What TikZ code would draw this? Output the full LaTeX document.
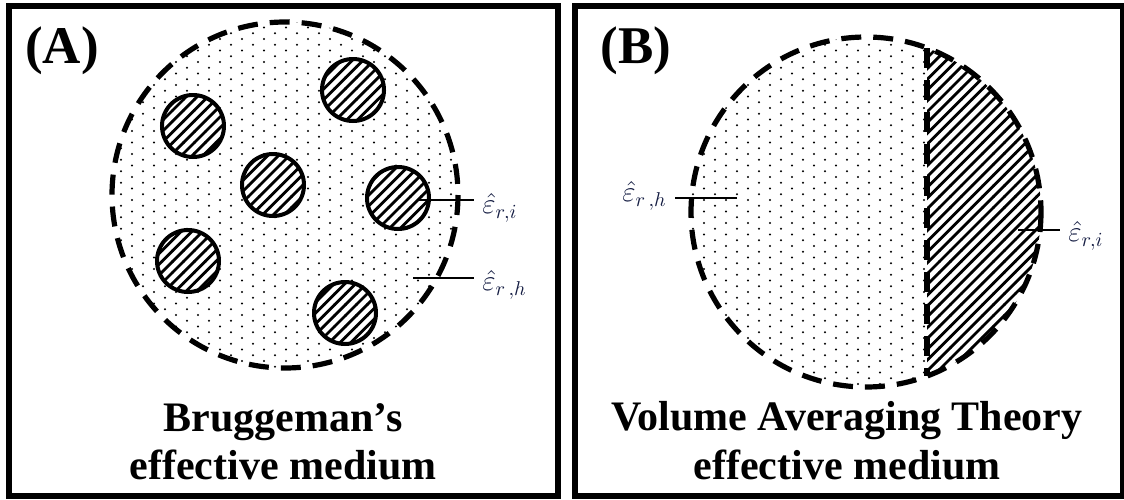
\documentclass[tikz,border=0pt]{standalone}
\usepackage{fontspec}
\setmainfont{Liberation Serif}
\usetikzlibrary{patterns}

\definecolor{epsblue}{RGB}{20,28,66}

\pgfdeclarepatternformonly{sparsedots}{\pgfqpoint{-1pt}{-1pt}}{\pgfqpoint{12pt}{7pt}}{\pgfqpoint{11pt}{5.75pt}}{
  \pgfpathcircle{\pgfqpoint{0pt}{0pt}}{.55pt}
  \pgfpathcircle{\pgfqpoint{5.5pt}{2.875pt}}{.55pt}
  \pgfusepath{fill}
}
\pgfdeclarepatternformonly{hatch}{\pgfqpoint{-1pt}{-1pt}}{\pgfqpoint{6.5pt}{6.5pt}}{\pgfqpoint{5.4pt}{5.4pt}}{
  \pgfsetlinewidth{1.4pt}
  \pgfpathmoveto{\pgfqpoint{-0.1pt}{-0.1pt}}
  \pgfpathlineto{\pgfqpoint{5.5pt}{5.5pt}}
  \pgfusepath{stroke}
}

\tikzset{
  panel/.style={draw,line width=2.6pt},
  rim/.style={line width=2.6pt,dash pattern=on 10pt off 6pt},
  incl/.style={circle,draw,line width=2pt,minimum size=31pt,inner sep=0pt,
    preaction={fill=white},pattern=hatch},
  tag/.style={font=\fontsize{26.5}{30}\selectfont\bfseries,anchor=base},
  capline/.style={font=\fontsize{21}{24}\selectfont\bfseries,anchor=base},
  epslabel/.style={text=epsblue,font=\fontsize{14}{16}\selectfont,inner xsep=4pt,inner ysep=1pt},
  leader/.style={line width=0.6pt},
}

\begin{document}
\begin{tikzpicture}[x=0.5pt,y=-0.5pt]
\useasboundingbox (0,0) rectangle (1124,499);

% (A) Bruggeman
\draw[panel] (9,6) rectangle (558,496);
\fill[pattern=sparsedots] (285,195) circle (173);
\draw[rim] (285,195) circle (173);

\node[incl] (i1) at (193,126) {};
\node[incl] (i2) at (353,90) {};
\node[incl] (i3) at (273,185) {};
\node[incl] (i4) at (398,198) {};
\node[incl] (i5) at (188,261) {};
\node[incl] (i6) at (345,313) {};

\coordinate (pAi) at (418,200);
\coordinate (pAh) at (413,278);
\node[epslabel,anchor=west] (epsAi) at (474,208) {$\hat{\varepsilon}_{r,i}$};
\node[epslabel,anchor=west] (epsAh) at (474,285) {$\hat{\varepsilon}_{r\,,h}$};
\draw[leader] (pAi) -- (pAi -| epsAi.west);
\draw[leader] (pAh) -- (pAh -| epsAh.west);

\node[tag] (tagA) at (62,63) {(A)};
\node[capline] (brugg) at (283,431) {Bruggeman’s};
\node[capline] (effA) at (283,479) {effective medium};

% (B) volume averaging
\draw[panel] (575,6) rectangle (1123,496);
\begin{scope}
  \clip (866,212) circle (175);
  \fill[pattern=sparsedots] (680,30) rectangle (927,400);
  \fill[pattern=hatch] (927,30) rectangle (1050,400);
\end{scope}
\draw[rim] (866,212) circle (175);
\draw[rim] (927,48) -- (927,376);

\coordinate (pBh) at (737,198);
\coordinate (pBi) at (1018,230);
\node[epslabel,anchor=east] (epsBh) at (675,196) {$\hat{\varepsilon}_{r\,,h}$};
\node[epslabel,anchor=west] (epsBi) at (1060,236) {$\hat{\varepsilon}_{r,i}$};
\draw[leader] (pBh) -- (pBh -| epsBh.east);
\draw[leader] (pBi) -- (pBi -| epsBi.west);

\node[tag] (tagB) at (636,63) {(B)};
\node[capline] (vat) at (847,430) {Volume Averaging Theory};
\node[capline] (effB) at (847,479) {effective medium};
\end{tikzpicture}
\end{document}
